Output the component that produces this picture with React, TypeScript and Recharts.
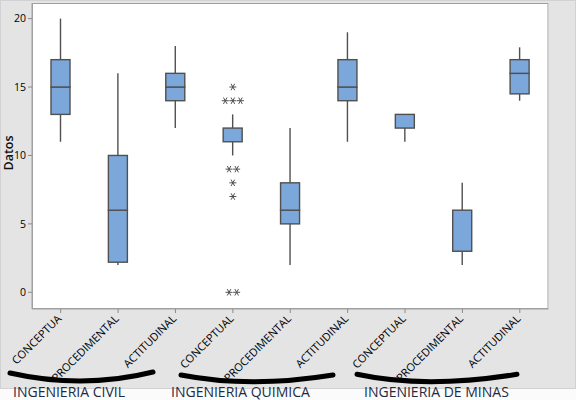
import React from "react";
import { ComposedChart, Bar, Scatter, XAxis, YAxis } from "recharts";

// categories (keys must be unique for the band scale)
const catKeys = ["c-con", "c-pro", "c-act", "q-con", "q-pro", "q-act", "m-con", "m-pro", "m-act"];
const catLabels = [
  "CONCEPTUA",
  "PROCEDIMENTAL",
  "ACTITUDINAL",
  "CONCEPTUAL",
  "PROCEDIMENTAL",
  "ACTITUDINAL",
  "CONCEPTUAL",
  "PROCEDIMENTAL",
  "ACTITUDINAL",
];
const groupLabels = ["INGENIERIA CIVIL", "INGENIERIA QUIMICA", "INGENIERIA DE MINAS"];

// five-number summaries
const mins = [11, 2, 12, 10, 2, 11, 11, 2, 14];
const q1s = [13, 2.2, 14, 11, 5, 14, 12, 3, 14.5];
const medians = [15, 6, 15, 12, 6, 15, 13, 3, 16];
const q3s = [17, 10, 16, 12, 8, 17, 13, 6, 17];
const maxs = [20, 16, 18, 13, 12, 19, 13, 8, 17.9];

// outliers: value and how many stars sit at that value
const outlierValues = [[], [], [], [15, 14, 9, 8, 7, 0], [], [], [], [], []];
const outlierCounts = [[], [], [], [1, 3, 2, 1, 1, 2], [], [], [], [], []];

const yTicks = [0, 5, 10, 15, 20];

const W = 576;
const H = 400;
const plot = { left: 32, top: 3, right: 548.5, bottom: 309 };

const boxFill = "#7BA7DA";
const ink = "#505050";
const frame = "#a0a0a0";
const font = "'Open Sans', 'DejaVu Sans', sans-serif";

// hand-drawn brackets under each group + label spots (annotation layer)
const brackets = [
  "M10,373 Q83,389.5 153,372",
  "M181,375 Q250,388.5 333,375",
  "M357,374.3 Q425,389 517,374.3",
];
const groupLabelX = [13, 171, 364];

const rows = catKeys.map((key, i) => ({
  key,
  base: mins[i],
  lw: q1s[i] - mins[i],
  bl: medians[i] - q1s[i],
  bu: q3s[i] - medians[i],
  uw: maxs[i] - q3s[i],
  out: outlierValues[i],
  outN: outlierCounts[i],
}));

const maxOutliers = Math.max(...outlierValues.map((o) => o.length));

const Nothing = () => <g />;

const Whisker = (p: any) => {
  const cx = p.x + p.width / 2;
  return <line x1={cx} x2={cx} y1={p.y} y2={p.y + p.height} stroke={ink} strokeWidth={1.4} />;
};

const BoxPart = (p: any) => (
  <rect x={p.x} y={p.y} width={p.width} height={p.height} fill={boxFill} stroke={ink} strokeWidth={1.4} />
);

function Star({ x, y }: { x: number; y: number }) {
  return (
    <g stroke={ink} strokeWidth={1}>
      <line x1={x - 3.5} x2={x + 3.5} y1={y} y2={y} />
      <line x1={x - 1.8} x2={x + 1.8} y1={y - 3.2} y2={y + 3.2} />
      <line x1={x + 1.8} x2={x - 1.8} y1={y - 3.2} y2={y + 3.2} />
    </g>
  );
}

const makeOutlierShape = (idx: number) => (p: any) => {
  const pl = p.payload;
  if (!pl || pl.out[idx] === undefined) return <g />;
  const n = pl.outN[idx];
  const stars = [];
  for (let j = 0; j < n; j++) {
    stars.push(<Star key={j} x={p.cx + (j - (n - 1) / 2) * 7.6} y={p.cy} />);
  }
  return <g>{stars}</g>;
};

const CatTick = (p: any) => {
  const i = catKeys.indexOf(p.payload.value);
  const ax = p.x + 1.5;
  const ay = p.y + 4.5;
  return (
    <text
      x={ax}
      y={ay}
      transform={`rotate(-45, ${ax}, ${ay})`}
      textAnchor="end"
      fontSize={11}
      fontFamily={font}
      fill="#000"
    >
      {catLabels[i]}
    </text>
  );
};

export default function App() {
  return (
    <div style={{ position: "absolute", left: 0, top: 0, width: W, height: H, background: "#fbfbfb" }}>
      <div
        style={{
          position: "absolute",
          left: 0,
          top: 0,
          width: W - 2,
          height: 387,
          background: "#e4e4e4",
          border: "1px solid #d2d2d2",
        }}
      />
      <div
        style={{
          position: "absolute",
          left: plot.left,
          top: plot.top,
          width: plot.right - plot.left,
          height: plot.bottom - plot.top,
          background: "#fff",
        }}
      />
      <div style={{ position: "absolute", left: 0, top: 0 }}>
        <ComposedChart
          width={W}
          height={H}
          data={rows}
          margin={{ top: plot.top, right: W - plot.right, left: 0, bottom: 0 }}
          barSize={19}
        >
          <XAxis
            dataKey="key"
            type="category"
            allowDuplicatedCategory={false}
            interval={0}
            height={H - plot.bottom}
            tickSize={4}
            tickLine={{ stroke: "#8c8c8c" }}
            axisLine={{ stroke: frame }}
            tick={CatTick}
          />
          <YAxis
            type="number"
            domain={[-1.22, 21.14]}
            ticks={yTicks}
            allowDataOverflow
            width={plot.left}
            tickSize={4}
            tickMargin={2}
            tickLine={{ stroke: "#8c8c8c" }}
            axisLine={{ stroke: frame }}
            tick={{ fontSize: 10.5, fill: "#000", fontFamily: font }}
          />
          <Bar dataKey="base" stackId="box" shape={Nothing} isAnimationActive={false} />
          <Bar dataKey="lw" stackId="box" shape={Whisker} isAnimationActive={false} />
          <Bar dataKey="bl" stackId="box" shape={BoxPart} isAnimationActive={false} />
          <Bar dataKey="bu" stackId="box" shape={BoxPart} isAnimationActive={false} />
          <Bar dataKey="uw" stackId="box" shape={Whisker} isAnimationActive={false} />
          {Array.from({ length: maxOutliers }, (_, k) => (
            <Scatter
              key={k}
              dataKey={(d: any) => (d.out[k] === undefined ? null : d.out[k])}
              shape={makeOutlierShape(k)}
              isAnimationActive={false}
            />
          ))}
        </ComposedChart>
      </div>
      <svg width={W} height={H} style={{ position: "absolute", left: 0, top: 0, pointerEvents: "none" }}>
        <rect
          x={plot.left + 0.5}
          y={plot.top + 0.5}
          width={plot.right - plot.left - 1}
          height={plot.bottom - plot.top - 1}
          fill="none"
          stroke={frame}
        />
        <text
          x={0}
          y={0}
          transform="translate(12.5, 153) rotate(-90)"
          textAnchor="middle"
          fontSize={12.5}
          fontWeight={600}
          fontFamily={font}
          fill="#111"
        >
          Datos
        </text>
        {brackets.map((d, i) => (
          <path key={i} d={d} fill="none" stroke="#000" strokeWidth={5} strokeLinecap="round" />
        ))}
        {groupLabels.map((g, i) => (
          <text key={g} x={groupLabelX[i]} y={397} fontSize={14} fontFamily={font} fill="#1d2b44">
            {g}
          </text>
        ))}
      </svg>
    </div>
  );
}
